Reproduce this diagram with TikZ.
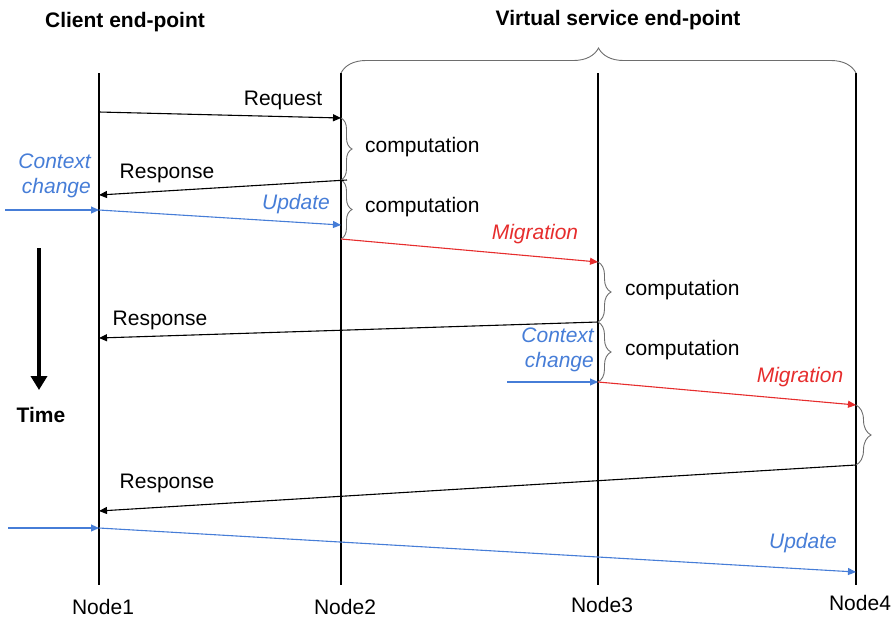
\documentclass[tikz,border=0pt]{standalone}
\usepackage{fontspec}
\setmainfont{Liberation Sans}
\usetikzlibrary{arrows.meta,decorations.pathreplacing}
\definecolor{ctxblue}{RGB}{70,125,215}
\definecolor{migred}{RGB}{230,45,45}
\definecolor{bracegray}{RGB}{110,110,110}
\begin{document}
\begin{tikzpicture}[x=1pt,y=-1pt,
  txt/.style={font=\fontsize{21}{25}\selectfont, inner sep=0pt},
  ttl/.style={font=\fontsize{21}{25}\selectfont\bfseries, inner sep=0pt},
  itx/.style={font=\fontsize{21}{25}\selectfont\itshape, inner sep=0pt},
  lifeline/.style={line width=2.2pt},
  msg/.style={line width=1.1pt, -{Triangle[length=8pt,width=7pt]}},
  bluemsg/.style={msg, ctxblue},
  redmsg/.style={msg, migred},
  cbrace/.style={decorate, decoration={brace, amplitude=#1}, draw=bracegray, line width=0.9pt},
  cbrace/.default=11pt]
\useasboundingbox (0,0) rectangle (894,622);

% headings
\node[ttl] (client) at (125,22) {Client end-point};
\node[ttl] (virtual) at (618,20) {Virtual service end-point};

% lifelines
\node[txt] (n1) at (103,607) {Node1};
\node[txt] (n2) at (345,607) {Node2};
\node[txt] (n3) at (602,605) {Node3};
\node[txt] (n4) at (860,603) {Node4};
\coordinate (t1) at (99,73);  \coordinate (b1) at (99,585);
\coordinate (t2) at (341,73); \coordinate (b2) at (341,585);
\coordinate (t3) at (598,73); \coordinate (b3) at (598,585);
\coordinate (t4) at (856,73); \coordinate (b4) at (856,585);
\foreach \i in {1,...,4} \draw[lifeline] (t\i) -- (b\i);

% brace over the service nodes
\draw[cbrace=25pt] (t2) -- (t4);

% time axis
\coordinate (timetop) at (39,248);
\coordinate (timebot) at (39,390);
\draw[line width=4pt, -{Triangle[length=14pt,width=16pt]}] (timetop) -- (timebot);
\node[ttl] (time) at (41,415) {Time};

% message end points
\coordinate (req-s) at (99,112);  \coordinate (req-e) at (341,118);
\coordinate (rsp1-s) at (347,180); \coordinate (rsp1-e) at (99,195);
\coordinate (ctx1-s) at (5,210);  \coordinate (ctx1-e) at (99,210);
\coordinate (upd1-e) at (341,225);
\coordinate (mig1-s) at (341,239); \coordinate (mig1-e) at (598,262);
\coordinate (c3a) at (598,322);   \coordinate (c3b) at (598,382);
\coordinate (rsp2-e) at (99,338);
\coordinate (ctx2-s) at (507,382);
\coordinate (mig2-e) at (856,405);
\coordinate (c4b) at (856,465);
\coordinate (rsp3-e) at (99,511);
\coordinate (ctx3-s) at (8,528);  \coordinate (ctx3-e) at (99,528);
\coordinate (upd3-e) at (856,572);

% computation braces
\draw[cbrace] (req-e) -- (341,180);
\draw[cbrace] (341,180) -- (mig1-s);
\draw[cbrace=13pt] (mig1-e) -- (c3a);
\draw[cbrace=13pt] (c3a) -- (c3b);
\draw[cbrace=15pt] (mig2-e) -- (c4b);
\node[txt, anchor=west] (comp1) at (365,147) {computation};
\node[txt, anchor=west] (comp2) at (365,207) {computation};
\node[txt, anchor=west] (comp3) at (625,290) {computation};
\node[txt, anchor=west] (comp4) at (625,350) {computation};

% messages
\draw[msg] (req-s) -- (req-e);
\node[txt] (reqlbl) at (283,100) {Request};

\draw[msg] (rsp1-s) -- (rsp1-e);
\node[txt] (rsp1lbl) at (167,173) {Response};

\node[itx, text=ctxblue, align=right, anchor=east] (ctx1lbl) at (91,176) {Context\\change};
\draw[bluemsg] (ctx1-s) -- (ctx1-e);
\draw[bluemsg] (ctx1-e) -- (upd1-e);
\node[itx, text=ctxblue] (upd1lbl) at (296,204) {Update};

\draw[redmsg] (mig1-s) -- (mig1-e);
\node[itx, text=migred] (mig1lbl) at (535,234) {Migration};

\draw[msg] (c3a) -- (rsp2-e);
\node[txt] (rsp2lbl) at (160,320) {Response};

\node[itx, text=ctxblue, align=right, anchor=east] (ctx2lbl) at (594,350) {Context\\change};
\draw[bluemsg] (ctx2-s) -- (c3b);

\draw[redmsg] (c3b) -- (mig2-e);
\node[itx, text=migred] (mig2lbl) at (800,377) {Migration};

\draw[msg] (c4b) -- (rsp3-e);
\node[txt] (rsp3lbl) at (167,483) {Response};

\draw[bluemsg] (ctx3-s) -- (ctx3-e);
\draw[bluemsg] (ctx3-e) -- (upd3-e);
\node[itx, text=ctxblue] (upd3lbl) at (803,543) {Update};
\end{tikzpicture}
\end{document}
